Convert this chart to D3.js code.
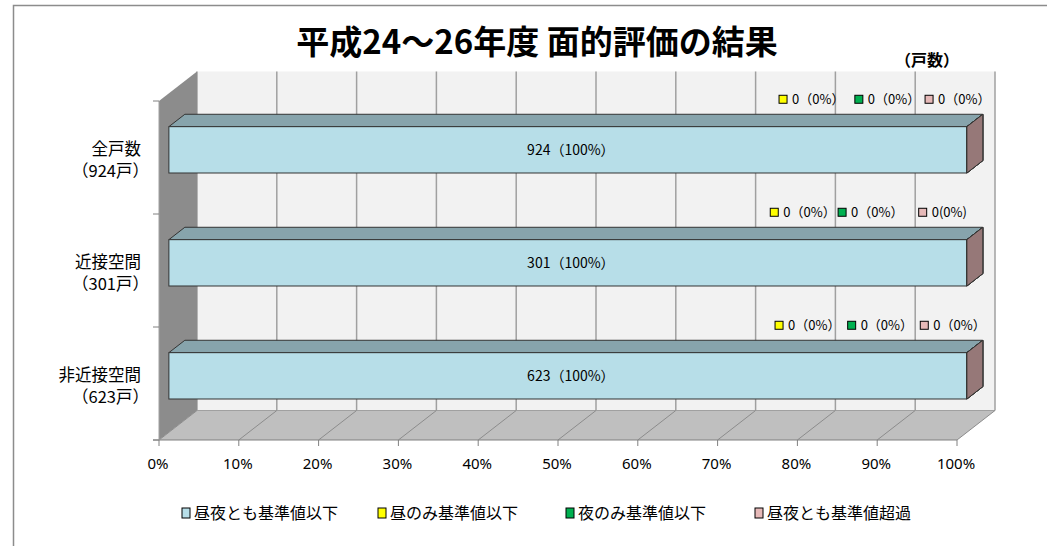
<!DOCTYPE html>
<html>
<head>
<meta charset="utf-8">
<script src="https://cdn.jsdelivr.net/npm/d3@7"></script>
<style>
  body { margin: 0; background: #fff; }
  svg text { font-family: "Noto Sans CJK JP", "Noto Sans", sans-serif; }
</style>
</head>
<body>
<div id="chart"></div>
<script>
// data
const categories = ["全戸数", "近接空間", "非近接空間"];
const categoryTotals = [924, 301, 623];
const seriesNames = ["昼夜とも基準値以下", "昼のみ基準値以下", "夜のみ基準値以下", "昼夜とも基準値超過"];
const allBelow = [924, 301, 623];
const dayOnly = [0, 0, 0];
const nightOnly = [0, 0, 0];
const bothOver = [0, 0, 0];
const xTicks = [0, 10, 20, 30, 40, 50, 60, 70, 80, 90, 100];

// where the small "0(0%)" labels sit, in % of the axis, one row per category
const zeroLabelAt = [[78.2, 87.7, 96.5], [77.1, 85.6, 95.7], [77.7, 86.8, 95.9]];

const colors = ["#b7dee8", "#ffff00", "#00b050", "#e6b9b8"];

const W = 1050, H = 546;
const svg = d3.select("#chart").append("svg")
    .attr("width", W).attr("height", H);

// outer frame (only top/left visible)
svg.append("path")
    .attr("d", "M13.5,546 L13.5,5.5 L1047,5.5")
    .attr("fill", "none").attr("stroke", "#8c8c8c").attr("stroke-width", 1.5);

// title
svg.append("text")
    .attr("x", 537).attr("y", 54)
    .attr("text-anchor", "middle")
    .style("font-size", "33px").style("font-weight", "bold")
    .text("平成24～26年度 面的評価の結果");

svg.append("text")
    .attr("x", 895).attr("y", 66)
    .style("font-size", "16px").style("font-weight", "bold")
    .text("（戸数）");

// scales (front plane) + depth offset
const x = d3.scaleLinear().domain([0, 100]).range([159, 957]);
const y = d3.scaleBand().domain(categories).range([101, 440]).padding(0);
const depth = {dx: 38, dy: -29.5};
const off = t => [depth.dx * t, depth.dy * t];

const shade = (c, k) => {
  const r = d3.rgb(c);
  return d3.rgb(r.r * k, r.g * k, r.b * k).formatHex();
};

const yTop = y.range()[0], yBot = y.range()[1];
const [bdx, bdy] = off(1);

// back wall
svg.append("rect")
    .attr("x", x(0) + bdx).attr("y", yTop + bdy)
    .attr("width", x(100) - x(0)).attr("height", yBot - yTop)
    .attr("fill", "#f2f2f2");

// back wall gridlines
svg.selectAll(".grid")
    .data(xTicks)
    .enter().append("line")
    .attr("class", "grid")
    .attr("x1", d => x(d) + bdx).attr("x2", d => x(d) + bdx)
    .attr("y1", yTop + bdy).attr("y2", yBot + bdy)
    .attr("stroke", "#a0a0a0").attr("stroke-width", 1.5);

// left wall
svg.append("polygon")
    .attr("points", [[x(0), yTop], [x(0) + bdx, yTop + bdy], [x(0) + bdx, yBot + bdy], [x(0), yBot]].join(" "))
    .attr("fill", "#8c8c8c");

// floor
svg.append("polygon")
    .attr("points", [[x(0), yBot], [x(100), yBot], [x(100) + bdx, yBot + bdy], [x(0) + bdx, yBot + bdy]].join(" "))
    .attr("fill", "#bfbfbf");

svg.append("line")
    .attr("x1", x(0) + bdx).attr("x2", x(100) + bdx)
    .attr("y1", yBot + bdy).attr("y2", yBot + bdy)
    .attr("stroke", "#a0a0a0").attr("stroke-width", 1);

svg.selectAll(".floorgrid")
    .data(xTicks)
    .enter().append("line")
    .attr("class", "floorgrid")
    .attr("x1", d => x(d)).attr("y1", yBot)
    .attr("x2", d => x(d) + bdx).attr("y2", yBot + bdy)
    .attr("stroke", "#8c8c8c").attr("stroke-width", 1);

// x axis line + ticks
svg.append("line")
    .attr("x1", x(0) - 6).attr("x2", x(100))
    .attr("y1", yBot).attr("y2", yBot)
    .attr("stroke", "#808080").attr("stroke-width", 1.2);

svg.selectAll(".xtick")
    .data(xTicks)
    .enter().append("line")
    .attr("x1", d => x(d)).attr("x2", d => x(d))
    .attr("y1", yBot).attr("y2", yBot + 6)
    .attr("stroke", "#808080");

svg.selectAll(".xlabel")
    .data(xTicks)
    .enter().append("text")
    .attr("x", d => x(d) - 1).attr("y", yBot + 29)
    .attr("text-anchor", "middle")
    .style("font-family", "'Noto Sans', sans-serif")
    .style("font-size", "15px").attr("fill", "#000")
    .text(d => d + "%");

// y axis line + ticks at band edges
svg.append("line")
    .attr("x1", x(0)).attr("x2", x(0))
    .attr("y1", yTop).attr("y2", yBot)
    .attr("stroke", "#a0a0a0");

const yEdges = categories.map(c => y(c)).concat([yBot]);
svg.selectAll(".ytick")
    .data(yEdges)
    .enter().append("line")
    .attr("x1", x(0) - 6).attr("x2", x(0))
    .attr("y1", d => d).attr("y2", d => d)
    .attr("stroke", "#808080");

// category labels (two lines)
const catLabel = svg.selectAll(".catlabel")
    .data(categories)
    .enter().append("text")
    .attr("class", "catlabel")
    .attr("text-anchor", "end")
    .style("font-size", "16.5px").attr("fill", "#000");

catLabel.append("tspan")
    .attr("x", 141)
    .attr("y", d => y(d) + y.bandwidth() / 2 - 3)
    .text(d => d);

catLabel.append("tspan")
    .attr("x", 149)
    .attr("y", (d, i) => y(d) + y.bandwidth() / 2 + 19.5)
    .text((d, i) => "（" + categoryTotals[i] + "戸）");

// stacked 3D bars
const rows = categories.map((c, i) => ({
  cat: c,
  total: categoryTotals[i],
  s0: allBelow[i], s1: dayOnly[i], s2: nightOnly[i], s3: bothOver[i]
}));
const keys = ["s0", "s1", "s2", "s3"];
const stacked = d3.stack().keys(keys)
    .value((d, k) => d[k] / d.total * 100)(rows);

const barFront = 0.26, barBack = 0.68;     // depth position of the bar
const barRatio = 0.41;                       // bar height / band height
const [fdx, fdy] = off(barFront);
const [kdx, kdy] = off(barBack);
const barH = y.bandwidth() * barRatio;

const barG = svg.append("g");
stacked.forEach((layer, si) => {
  layer.forEach((seg, ri) => {
    const cat = categories[ri];
    const cy = y(cat) + y.bandwidth() / 2;
    const y0 = cy - barH / 2, y1 = cy + barH / 2;
    const xa = x(seg[0]), xb = x(seg[1]);
    const col = colors[si];
    const g = barG.append("g");
    if (xb > xa) {
      // top face
      g.append("polygon")
          .attr("points", [[xa + fdx, y0 + fdy], [xb + fdx, y0 + fdy], [xb + kdx, y0 + kdy], [xa + kdx, y0 + kdy]].join(" "))
          .attr("fill", shade(col, 0.74)).attr("stroke", "#333").attr("stroke-width", 1);
      // front face
      g.append("rect")
          .attr("x", xa + fdx).attr("y", y0 + fdy)
          .attr("width", xb - xa).attr("height", barH)
          .attr("fill", col).attr("stroke", "#333").attr("stroke-width", 1);
    }
    // right face
    g.append("polygon")
        .attr("points", [[xb + fdx, y0 + fdy], [xb + kdx, y0 + kdy], [xb + kdx, y1 + kdy], [xb + fdx, y1 + fdy]].join(" "))
        .attr("fill", shade(col, 0.65)).attr("stroke", "#333").attr("stroke-width", 1);
  });
});

// value labels inside bars
svg.selectAll(".vlabel")
    .data(rows)
    .enter().append("text")
    .attr("x", d => x(50) + fdx + 3)
    .attr("y", d => y(d.cat) + y.bandwidth() / 2 + fdy + 5)
    .attr("text-anchor", "middle")
    .style("font-size", "14px").attr("fill", "#000")
    .text(d => d.s0 + "（" + Math.round(d.s0 / d.total * 100) + "%）");

// small labels for the zero series, above each bar
rows.forEach((r, ri) => {
  const cy = y(r.cat) + y.bandwidth() / 2 - barH / 2 + kdy - 15;
  [1, 2, 3].forEach((si, j) => {
    const v = r[keys[si]];
    const px = x(zeroLabelAt[ri][j]);
    svg.append("rect")
        .attr("x", px - 4).attr("y", cy - 4)
        .attr("width", 8).attr("height", 8)
        .attr("fill", colors[si]).attr("stroke", "#000").attr("stroke-width", 1);
    const pct = Math.round(v / r.total * 100);
    svg.append("text")
        .attr("x", px + 9).attr("y", cy + 5)
        .style("font-size", "13px").attr("fill", "#000")
        .text(ri === 1 && si === 3 ? v + "(" + pct + "%)" : v + "（" + pct + "%）");
  });
});

// legend
const legendX = [182, 378, 566, 755];
const legend = svg.selectAll(".legend")
    .data(seriesNames)
    .enter().append("g")
    .attr("transform", (d, i) => `translate(${legendX[i]}, 508)`);

legend.append("rect")
    .attr("width", 8).attr("height", 10)
    .attr("fill", (d, i) => colors[i])
    .attr("stroke", "#000").attr("stroke-width", 1);

legend.append("text")
    .attr("x", 12).attr("y", 11)
    .style("font-size", "16px").attr("fill", "#000")
    .text(d => d);
</script>
</body>
</html>
